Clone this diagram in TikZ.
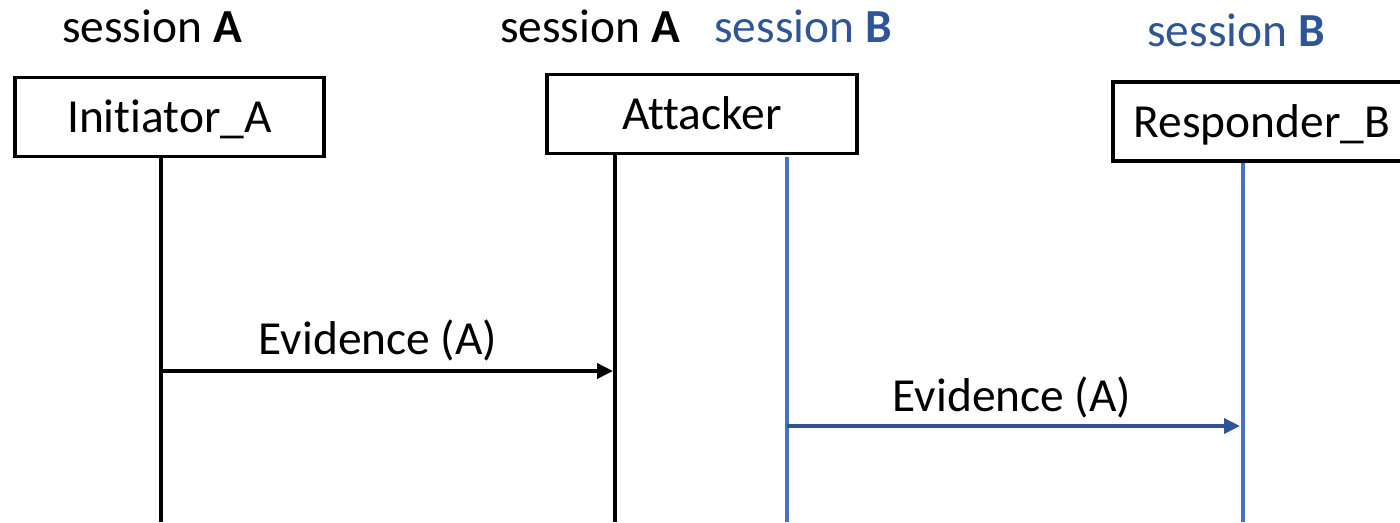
\documentclass[tikz,border=0pt]{standalone}
\usepackage{fontspec}
\setmainfont[Ligatures=NoCommon]{Carlito}
\usepackage{xcolor}
\usetikzlibrary{positioning,calc,arrows.meta}
\definecolor{sessblue}{HTML}{2F5597}
\definecolor{lineblue}{HTML}{4472C4}

\begin{document}
\begin{tikzpicture}[x=0.02cm, y=-0.02cm,
    every node/.style={font=\fontsize{27}{32}\selectfont},
    actor/.style={draw, line width=2pt, minimum height=1.58cm, text height=0.62cm, text depth=0cm, inner sep=0pt},
    sesslabel/.style={anchor=base},
    lifeline/.style={line width=2pt},
    msg/.style={line width=2pt, -{Triangle[length=0.32cm,width=0.3cm]}}]
    \useasboundingbox (0,0) rectangle (1400,522);

    % Session headers
    \node[sesslabel] (sA1) at (152,42) {session \textbf{A}};
    \node[sesslabel] (sA2) at (590,42) {session \textbf{A}};
    \node[sesslabel, text=sessblue] (sB1) at (803,42) {session \textbf{B}};
    \node[sesslabel, text=sessblue] (sB2) at (1236,46) {session \textbf{B}};

    % Actors
    \node[actor, minimum width=6.18cm] (init) at (169.5,117) {Initiator\_A};
    \node[actor, minimum width=6.2cm] (att) at (702,114) {Attacker};
    \node[actor, minimum width=5.96cm] (resp) at (1262,121.5) {Responder\_B};

    % Lifelines
    \coordinate (initEnd) at (161,522);
    \coordinate (attEnd) at (615,522);
    \coordinate (attBEnd) at (787,522);
    \coordinate (respEnd) at (1243,522);
    \draw[lifeline] (init.south -| initEnd) -- (initEnd);
    \draw[lifeline] (att.south -| attEnd) -- (attEnd);
    \draw[lifeline, lineblue] (787,157) coordinate (attB) -- (attBEnd);
    \draw[lifeline, lineblue] (resp.south -| respEnd) -- (respEnd);

    % Messages
    \coordinate (m1s) at (161,371);
    \coordinate (m2s) at (787,426);
    \draw[msg] (m1s) -- ($(m1s -| attEnd)+(-2,0)$);
    \node (ev1) at (378,340) {Evidence (A)};
    \draw[msg, sessblue] (m2s) -- ($(m2s -| respEnd)+(-3,0)$);
    \node (ev2) at (1012,397) {Evidence (A)};
\end{tikzpicture}
\end{document}
